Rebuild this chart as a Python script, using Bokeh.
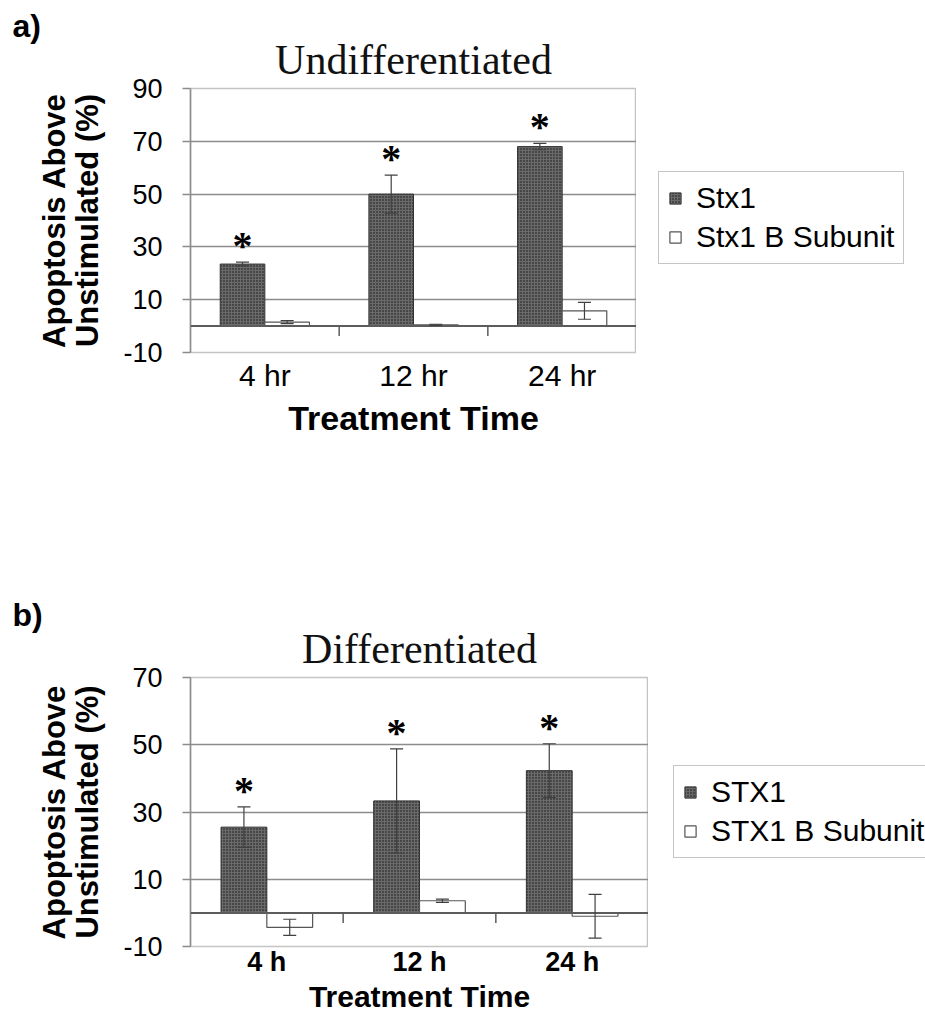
from bokeh.plotting import figure
from bokeh.models import (Range1d, FixedTicker, ColumnDataSource, Whisker, TeeHead,
                          LabelSet, Legend, LegendItem, Title, Span)
from bokeh.layouts import column, row
from bokeh.embed import file_html
from bokeh.resources import INLINE

# ---------------- data ----------------
categories_a = ["4 hr", "12 hr", "24 hr"]
stx1_a = [23.5, 50.0, 68.0]
stx1_err_a = [0.7, 7.2, 1.2]
bsub_a = [1.5, 0.5, 5.8]
bsub_err_a = [0.6, 0.2, 3.2]
legend_a = ["Stx1", "Stx1 B Subunit"]
yticks_a = [-10, 10, 30, 50, 70, 90]

categories_b = ["4 h", "12 h", "24 h"]
stx1_b = [25.5, 33.3, 42.3]
stx1_err_b = [6.0, 15.5, 8.0]
bsub_b = [-4.3, 3.6, -1.0]
bsub_err_b = [2.4, 0.5, 6.5]
legend_b = ["STX1", "STX1 B Subunit"]
yticks_b = [-10, 10, 30, 50, 70]

SANS = "Liberation Sans"
SERIF = "Liberation Serif"
WIN_W = 925

STX1_STYLE = dict(fill_color="#6a6a6a", hatch_pattern="dot", hatch_color="#101010",
                  hatch_scale=3.0, hatch_weight=1.0, line_color="#333333", line_width=1)
BSUB_STYLE = dict(fill_color="white", line_color="#555555", line_width=1.2)


def make_panel(tag, title, cats, s1, e1, s2, e2, yticks, *,
               height, frame_w, frame_h, top, bold_cats, cat_size, xtitle_size,
               cat_standoff, xtitle_standoff):
    n = len(cats)
    ymin, ymax = yticks[0], yticks[-1]
    p = figure(frame_width=frame_w, frame_height=frame_h,
               x_range=Range1d(0, n), y_range=Range1d(ymin, ymax),
               min_border_left=190, min_border_right=0,
               min_border_top=top, min_border_bottom=height - top - frame_h,
               title_location=None, output_backend="svg", toolbar_location=None,
               background_fill_color="white", border_fill_color="white")
    p.outline_line_color = "#c4c4c4"
    p.outline_line_width = 1.5

    # titles
    p.add_layout(Title(text=title, align="center", text_font=SERIF,
                       text_font_size="42px", text_font_style="normal",
                       text_color="#111111", standoff=12), "above")
    p.add_layout(Title(text=tag, align="left", offset=-178, text_font=SANS,
                       text_font_size="32px", text_font_style="bold",
                       text_color="black", standoff=-30), "above")

    # grid
    p.xgrid.visible = False
    p.ygrid.ticker = FixedTicker(ticks=[t for t in yticks if t > ymin])
    p.ygrid.grid_line_color = "#8c8c8c"
    p.ygrid.grid_line_width = 1.6

    # y axis
    ya = p.yaxis[0]
    ya.ticker = FixedTicker(ticks=yticks)
    ya.major_label_overrides = {t: str(t) for t in yticks}
    ya.axis_line_color = "#8c8c8c"
    ya.axis_line_width = 1.5
    ya.major_tick_line_color = "#8c8c8c"
    ya.major_tick_line_width = 1.5
    ya.major_tick_out = 8
    ya.major_tick_in = 0
    ya.minor_tick_line_color = None
    ya.major_label_text_font = SANS
    ya.major_label_text_font_size = "27px"
    ya.major_label_text_color = "black"
    ya.major_label_standoff = 20
    ya.axis_label = "Apoptosis Above\nUnstimulated (%)"
    ya.axis_label_text_font = SANS
    ya.axis_label_text_font_size = "31px"
    ya.axis_label_text_font_style = "bold"
    ya.axis_label_text_color = "black"
    ya.axis_label_text_line_height = 0.95
    ya.axis_label_standoff = 15

    # x axis (category labels)
    xa = p.xaxis[0]
    centers = [i + 0.5 for i in range(n)]
    xa.ticker = FixedTicker(ticks=centers)
    xa.major_label_overrides = {c: lab for c, lab in zip(centers, cats)}
    xa.axis_line_color = None
    xa.major_tick_line_color = None
    xa.minor_tick_line_color = None
    xa.major_label_text_font = SANS
    xa.major_label_text_font_size = cat_size
    xa.major_label_text_font_style = "bold" if bold_cats else "normal"
    xa.major_label_text_color = "black"
    xa.major_label_standoff = cat_standoff
    xa.axis_label = "Treatment Time"
    xa.axis_label_text_font = SANS
    xa.axis_label_text_font_size = xtitle_size
    xa.axis_label_text_font_style = "bold"
    xa.axis_label_text_color = "black"
    xa.axis_label_standoff = xtitle_standoff

    # bars
    w = 0.3
    x1 = [c - w / 2 for c in centers]
    x2 = [c + w / 2 for c in centers]
    p.vbar(x=x1, top=s1, bottom=0, width=w, **STX1_STYLE)
    p.vbar(x=x2, top=s2, bottom=0, width=w, **BSUB_STYLE)

    # zero line with category separators
    p.add_layout(Span(location=0, dimension="width", line_color="#5c5c5c",
                      line_width=2, level="overlay"))
    tick_len = 10 * (ymax - ymin) / frame_h
    bnd = list(range(1, n))
    p.segment(x0=bnd, y0=[0] * len(bnd), x1=bnd, y1=[-tick_len] * len(bnd),
              line_color="#5c5c5c", line_width=1.5)

    # error bars
    for xs, vals, errs in ((x1, s1, e1), (x2, s2, e2)):
        src = ColumnDataSource(dict(x=xs, upper=[v + e for v, e in zip(vals, errs)],
                                    lower=[v - e for v, e in zip(vals, errs)]))
        p.add_layout(Whisker(source=src, base="x", upper="upper", lower="lower",
                             line_color="#404040", line_width=1.2, level="overlay",
                             upper_head=TeeHead(size=13, line_color="#404040", line_width=1.2),
                             lower_head=TeeHead(size=13, line_color="#404040", line_width=1.2)))

    # significance asterisks
    star_src = ColumnDataSource(dict(x=x1, y=[v + e for v, e in zip(s1, e1)],
                                     t=["*"] * n))
    p.add_layout(LabelSet(x="x", y="y", text="t", source=star_src, y_offset=3,
                          text_align="center", text_baseline="alphabetic",
                          text_font=SANS, text_font_size="40px",
                          text_font_style="bold", text_color="black"))
    return p


def make_legend_fig(labels, s1, s2, *, width, height, loc):
    # companion figure holding the legend to the right of the chart frame;
    # its hidden renderers carry the same series and styles as the bars
    n = len(s1)
    lf = figure(width=width, height=height, x_range=Range1d(0, 1), y_range=Range1d(0, 1),
                x_axis_type=None, y_axis_type=None, min_border=0,
                title_location=None, output_backend="svg", toolbar_location=None,
                background_fill_color="white", border_fill_color="white")
    lf.outline_line_color = None
    g1 = lf.vbar(x=list(range(n)), top=s1, bottom=0, width=0.3, visible=False, **STX1_STYLE)
    g2 = lf.vbar(x=list(range(n)), top=s2, bottom=0, width=0.3, visible=False, **BSUB_STYLE)
    legend = Legend(items=[LegendItem(label=labels[0], renderers=[g1]),
                           LegendItem(label=labels[1], renderers=[g2])],
                    location=loc, orientation="vertical",
                    label_text_font=SANS, label_text_font_size="30px",
                    label_text_color="black", glyph_width=14, glyph_height=14,
                    label_height=28, label_standoff=14, spacing=5, padding=9,
                    margin=0, border_line_color="#8c8c8c", border_line_width=1.5,
                    background_fill_color="white", background_fill_alpha=1.0,
                    inactive_fill_alpha=0.0)
    lf.add_layout(legend, "center")
    return lf


H1, H2 = 590, 429
FW1, FW2 = 446, 458
p1 = make_panel("a)", "Undifferentiated", categories_a, stx1_a, stx1_err_a,
                bsub_a, bsub_err_a, yticks_a,
                height=H1, frame_w=FW1, frame_h=264, top=88,
                bold_cats=False, cat_size="30px", xtitle_size="34px",
                cat_standoff=0, xtitle_standoff=4)
p2 = make_panel("b)", "Differentiated", categories_b, stx1_b, stx1_err_b,
                bsub_b, bsub_err_b, yticks_b,
                height=H2, frame_w=FW2, frame_h=269, top=87,
                bold_cats=True, cat_size="27px", xtitle_size="30px",
                cat_standoff=-6, xtitle_standoff=0)

l1 = make_legend_fig(legend_a, stx1_a, bsub_a, width=WIN_W - 190 - FW1, height=H1, loc=(22, 88))
l2 = make_legend_fig(legend_b, stx1_b, bsub_b, width=WIN_W - 190 - FW2, height=H2, loc=(25, 88))

layout = column(row(p1, l1, spacing=0), row(p2, l2, spacing=0), spacing=0)
open("out.html", "w").write(file_html(layout, INLINE))
